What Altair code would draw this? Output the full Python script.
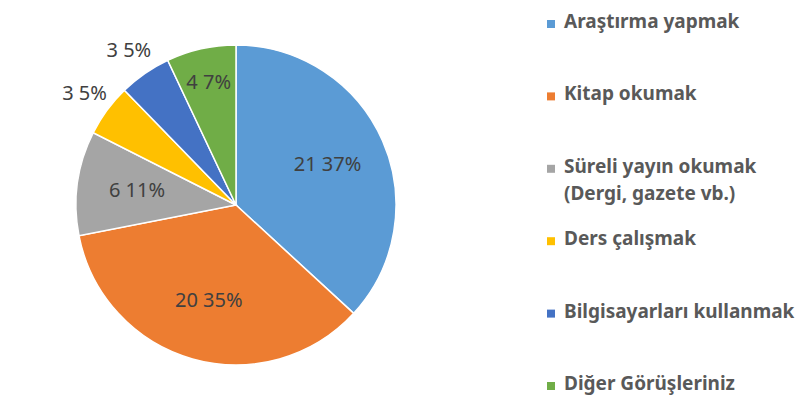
import altair as alt
import pandas as pd

categories = ["Araştırma yapmak", "Kitap okumak", "Süreli yayın okumak (Dergi, gazete vb.)",
              "Ders çalışmak", "Bilgisayarları kullanmak", "Diğer Görüşleriniz"]
values = [21, 20, 6, 3, 3, 4]
colors = ["#5B9BD5", "#ED7D31", "#A5A5A5", "#FFC000", "#4472C4", "#70AD47"]

df = pd.DataFrame({"cat": categories, "val": values, "order": list(range(len(values)))})

color_scale = alt.Scale(domain=categories, range=colors)
cx, cy, R = 228, 186, 160

pie = alt.Chart(df).mark_arc(outerRadius=R, stroke="white", strokeWidth=1.5).encode(
    theta=alt.Theta("val:Q", stack=True),
    order=alt.Order("order:Q"),
    x=alt.value(cx), y=alt.value(cy),
    color=alt.Color("cat:N", scale=color_scale, legend=None),
)

labels = alt.Chart(df).transform_joinaggregate(
    total="sum(val)"
).transform_window(
    cum="sum(val)", sort=[alt.SortField("order")], frame=[None, 0]
).transform_calculate(
    mid="(datum.cum - datum.val / 2) / datum.total * 2 * PI",
    lab="datum.val + ' ' + round(datum.val / datum.total * 100) + '%'",
    lr="datum.val / datum.total < 0.06 ? 188 : (datum.val / datum.total < 0.09 ? 125 : 100)",
).mark_text(font="Noto Sans", fontSize=20, color="#404040").encode(
    x=alt.value(cx), y=alt.value(cy),
    theta=alt.Theta("mid:Q", scale=None),
    radius=alt.Radius("lr:Q", scale=None),
    text="lab:N",
)

pie_panel = (pie + labels).properties(width=530, height=372)

leg_base = alt.Chart(df).encode(
    y=alt.Y("cat:N", sort=categories, axis=None,
            scale=alt.Scale(type="point", padding=0.069)),
)
leg_sym = leg_base.mark_point(shape="square", filled=True, size=64, opacity=1).encode(
    x=alt.value(13),
    color=alt.Color("cat:N", scale=color_scale, legend=None),
)
leg_txt = leg_base.transform_calculate(
    lines="split(replace(datum.cat, ' (', '|('), '|')"
).mark_text(font="Noto Sans", fontSize=19, fontWeight="bold", color="#595959",
            align="left", baseline="top", dy=-11, lineHeight=27).encode(
    x=alt.value(26),
    text="lines:N",
)
legend_panel = (leg_sym + leg_txt).properties(width=252, height=372)

chart = alt.hconcat(pie_panel, legend_panel, spacing=0).properties(
    padding={"top": 4, "left": 0, "right": 0, "bottom": 8}
).configure_view(stroke=None)

chart.save("out.html", embed_options={"renderer": "svg", "actions": False})
